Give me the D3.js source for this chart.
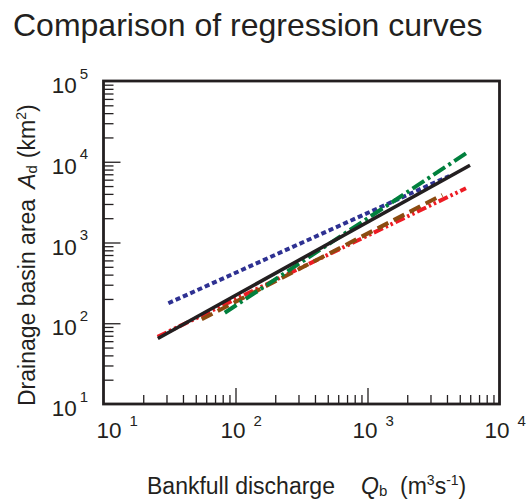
<!DOCTYPE html>
<html>
<head>
<meta charset="utf-8">
<script src="https://cdn.jsdelivr.net/npm/d3@7"></script>
<style>
  html, body { margin: 0; padding: 0; background: #fff; }
  svg { display: block; font-family: "Liberation Sans", Arial, Helvetica, sans-serif; }
</style>
</head>
<body>
<svg id="chart" width="527" height="499"></svg>
<script>
// ---- data ----
const curveNames = ["solid", "dotted", "dashDot", "dashed", "dashDotDot"];
const qStart = [25.8, 31, 83, 55.5, 25.7];        // bankfull discharge at start (m3/s)
const aStart = [64.7, 177, 135, 112, 68];         // drainage area at start (km2)
const qEnd   = [5980, 4170, 5570, 3690, 5570];    // bankfull discharge at end
const aEnd   = [9060, 6670, 12700, 3880, 4700];   // drainage area at end
const xTickExps = [1, 2, 3, 4];
const yTickExps = [1, 2, 3, 4, 5];
const titleText = "Comparison of regression curves";

// ---- styles ----
const curveStyle = {
  solid:      { color: "#231f20", width: 3.6, dash: null },
  dotted:     { color: "#2e3192", width: 4,   dash: "5,3" },
  dashDot:    { color: "#00803d", width: 4,   dash: "14,4,3,4" },
  dashed:     { color: "#8b4b10", width: 4,   dash: "12,6" },
  dashDotDot: { color: "#ed1c24", width: 4,   dash: "10,3,2.5,3,2.5,3" }
};
const drawOrder = ["dotted", "dashDotDot", "dashed", "dashDot", "solid"];

const svg = d3.select("#chart");
const L = 103.5, R = 499.5, T = 81, B = 404;
const x = d3.scaleLog().domain([10, 10000]).range([L, R]);
const y = d3.scaleLog().domain([10, 100000]).range([B, T]);

// title
svg.append("text").attr("x", 13).attr("y", 36)
  .attr("font-size", 32).attr("fill", "#231f20").text(titleText);

// minor/major tick values
const xMajor = xTickExps.map(e => Math.pow(10, e));
const yMajor = yTickExps.map(e => Math.pow(10, e));
const minorOf = (majors) => {
  const out = [];
  for (let i = 0; i < majors.length - 1; i++)
    for (let k = 2; k <= 9; k++) out.push(majors[i] * k);
  return out;
};

const axisColor = "#231f20";
function styleAxis(g) {
  g.select(".domain").remove();
  g.selectAll("line").attr("stroke", axisColor).attr("stroke-width", 1.3);
}
svg.append("g").attr("transform", `translate(0,${B})`)
  .call(d3.axisBottom(x).tickValues(minorOf(xMajor)).tickSize(-9).tickFormat(""))
  .call(styleAxis);
svg.append("g").attr("transform", `translate(0,${B})`)
  .call(d3.axisBottom(x).tickValues(xMajor.slice(1, -1)).tickSize(-16).tickFormat(""))
  .call(styleAxis);
svg.append("g").attr("transform", `translate(${L},0)`)
  .call(d3.axisLeft(y).tickValues(minorOf(yMajor)).tickSize(-10).tickFormat(""))
  .call(styleAxis);
svg.append("g").attr("transform", `translate(${L},0)`)
  .call(d3.axisLeft(y).tickValues(yMajor.slice(1, -1)).tickSize(-17).tickFormat(""))
  .call(styleAxis);

// curves
svg.append("clipPath").attr("id", "plotclip")
  .append("rect").attr("x", L).attr("y", T).attr("width", R - L).attr("height", B - T);
const line = d3.line().x(d => x(d[0])).y(d => y(d[1]));
const gCurves = svg.append("g").attr("clip-path", "url(#plotclip)");
drawOrder.forEach(name => {
  const i = curveNames.indexOf(name);
  const st = curveStyle[name];
  gCurves.append("path")
    .datum([[qStart[i], aStart[i]], [qEnd[i], aEnd[i]]])
    .attr("d", line)
    .attr("fill", "none")
    .attr("stroke", st.color)
    .attr("stroke-width", st.width)
    .attr("stroke-dasharray", st.dash);
});

// frame
svg.append("rect").attr("x", L).attr("y", T).attr("width", R - L).attr("height", B - T)
  .attr("fill", "none").attr("stroke", axisColor).attr("stroke-width", 2.8);

// x tick labels
xTickExps.forEach((e, i) => {
  const px = x(Math.pow(10, e)) - (i === 0 ? 7 : 15);
  const t = svg.append("text").attr("x", px).attr("y", 438)
    .attr("font-size", 22.5).attr("fill", "#231f20");
  t.append("tspan").text("10");
  t.append("tspan").attr("dx", 8).attr("dy", -12).attr("font-size", 15).text(e);
});

// y tick labels
yTickExps.forEach(e => {
  const py = y(Math.pow(10, e)) + 12;
  const t = svg.append("text").attr("x", 88).attr("y", py)
    .attr("text-anchor", "end").attr("font-size", 22.5).attr("fill", "#231f20");
  t.append("tspan").text("10");
  t.append("tspan").attr("dx", 3).attr("dy", -14.5).attr("font-size", 15).text(e);
});

// x axis title
const xt = svg.append("text").attr("x", 147).attr("y", 494)
  .attr("font-size", 23).attr("fill", "#231f20");
xt.append("tspan").text("Bankfull discharge");
xt.append("tspan").attr("x", 361).attr("font-style", "italic").text("Q");
xt.append("tspan").attr("dy", 2).attr("font-size", 15).text("b");
xt.append("tspan").attr("x", 400).attr("dy", -2).text("(m");
xt.append("tspan").attr("dy", -9).attr("font-size", 14).text("3");
xt.append("tspan").attr("dy", 9).text("s");
xt.append("tspan").attr("dy", -9).attr("font-size", 14).text("-1");
xt.append("tspan").attr("dy", 9).text(")");

// y axis title
const yt = svg.append("text")
  .attr("transform", "translate(35,406) rotate(-90)")
  .attr("x", 0).attr("y", 0)
  .attr("font-size", 23).attr("fill", "#231f20");
yt.append("tspan").text("Drainage basin area");
yt.append("tspan").attr("dx", 10).attr("font-style", "italic").text("A");
yt.append("tspan").attr("dy", 2).attr("font-size", 15).text("d");
yt.append("tspan").attr("dx", 7).attr("dy", -2).text("(km");
yt.append("tspan").attr("dy", -9).attr("font-size", 14).text("2");
yt.append("tspan").attr("dy", 9).text(")");
</script>
</body>
</html>
